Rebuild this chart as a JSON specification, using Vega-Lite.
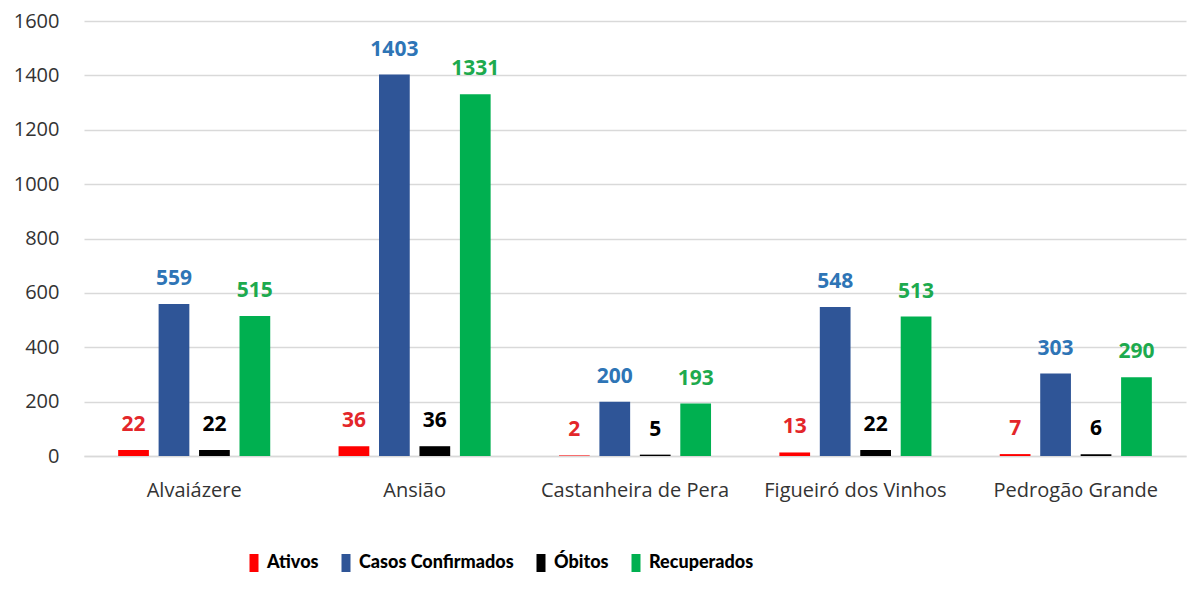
{
  "$schema": "https://vega.github.io/schema/vega-lite/v6.json",
  "autosize": {"type": "none"},
  "width": 1102,
  "height": 435,
  "padding": {"left": 84, "top": 21, "right": 14, "bottom": 136},
  "background": "white",
  "config": {"view": {"stroke": null}, "font": "Open Sans"},
  "data": {
    "values": [
      {"municipio": "Alvaiázere", "serie": "Ativos", "valor": 22},
      {"municipio": "Alvaiázere", "serie": "Casos Confirmados", "valor": 559},
      {"municipio": "Alvaiázere", "serie": "Óbitos", "valor": 22},
      {"municipio": "Alvaiázere", "serie": "Recuperados", "valor": 515},
      {"municipio": "Ansião", "serie": "Ativos", "valor": 36},
      {"municipio": "Ansião", "serie": "Casos Confirmados", "valor": 1403},
      {"municipio": "Ansião", "serie": "Óbitos", "valor": 36},
      {"municipio": "Ansião", "serie": "Recuperados", "valor": 1331},
      {"municipio": "Castanheira de Pera", "serie": "Ativos", "valor": 2},
      {"municipio": "Castanheira de Pera", "serie": "Casos Confirmados", "valor": 200},
      {"municipio": "Castanheira de Pera", "serie": "Óbitos", "valor": 5},
      {"municipio": "Castanheira de Pera", "serie": "Recuperados", "valor": 193},
      {"municipio": "Figueiró dos Vinhos", "serie": "Ativos", "valor": 13},
      {"municipio": "Figueiró dos Vinhos", "serie": "Casos Confirmados", "valor": 548},
      {"municipio": "Figueiró dos Vinhos", "serie": "Óbitos", "valor": 22},
      {"municipio": "Figueiró dos Vinhos", "serie": "Recuperados", "valor": 513},
      {"municipio": "Pedrogão Grande", "serie": "Ativos", "valor": 7},
      {"municipio": "Pedrogão Grande", "serie": "Casos Confirmados", "valor": 303},
      {"municipio": "Pedrogão Grande", "serie": "Óbitos", "valor": 6},
      {"municipio": "Pedrogão Grande", "serie": "Recuperados", "valor": 290}
    ]
  },
  "encoding": {
    "x": {
      "field": "municipio", "type": "nominal", "sort": null,
      "scale": {"paddingInner": 0.31, "paddingOuter": 0.155},
      "axis": {"title": null, "labelAngle": 0, "ticks": false, "domain": true, "domainColor": "#d9d9d9", "domainWidth": 1.5,
        "labelFontSize": 20, "labelColor": "#333333", "labelPadding": 24, "labelFont": "Open Sans", "labelLimit": 400, "labelOverlap": false}
    },
    "xOffset": {
      "field": "serie", "type": "nominal",
      "sort": ["Ativos", "Casos Confirmados", "Óbitos", "Recuperados"],
      "scale": {"domain": ["Ativos", "Casos Confirmados", "Óbitos", "Recuperados"], "paddingInner": 0.24, "paddingOuter": 0}
    },
    "y": {
      "field": "valor", "type": "quantitative",
      "scale": {"domain": [0, 1600], "nice": false},
      "axis": {"title": null, "values": [0, 200, 400, 600, 800, 1000, 1200, 1400, 1600], "format": "d", "domain": false, "ticks": false,
        "gridColor": "#d9d9d9", "gridWidth": 1.5, "labelFontSize": 20, "labelColor": "#333333", "labelPadding": 25, "labelFont": "Open Sans"}
    }
  },
  "layer": [
    {
      "mark": {"type": "bar"},
      "encoding": {
        "color": {
          "field": "serie", "type": "nominal",
          "scale": {"domain": ["Ativos", "Casos Confirmados", "Óbitos", "Recuperados"], "range": ["#FF0000", "#2F5597", "#000000", "#00B050"]},
          "legend": {
            "title": null, "orient": "none", "direction": "horizontal", "columns": 4,
            "legendX": 161, "legendY": 533,
            "symbolType": "M-0.5,-1H0.5V1H-0.5Z", "symbolSize": 324, "symbolStrokeWidth": 0,
            "labelFontSize": 18, "labelFontWeight": 900, "labelFont": "Lato", "labelColor": "#000000",
            "labelOffset": 4, "columnPadding": 18, "labelLimit": 300
          }
        }
      }
    },
    {
      "mark": {"type": "text", "baseline": "alphabetic", "dy": -19, "fontSize": 21, "fontWeight": "bold", "font": "Open Sans"},
      "encoding": {
        "text": {"field": "valor", "type": "quantitative"},
        "color": {
          "field": "serie", "type": "nominal",
          "scale": {"domain": ["Ativos", "Casos Confirmados", "Óbitos", "Recuperados"], "range": ["#E3262A", "#2E75B6", "#000000", "#1DAA4E"]},
          "legend": null
        }
      }
    }
  ],
  "resolve": {"scale": {"color": "independent"}}
}
